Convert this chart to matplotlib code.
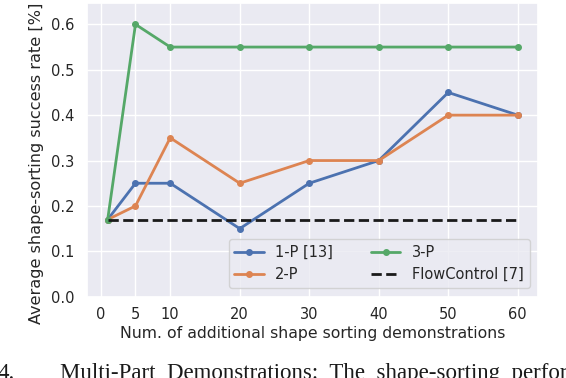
import matplotlib
matplotlib.use('Agg')
import matplotlib.pyplot as plt
import seaborn as sns

sns.set_theme(style='darkgrid')

# number of additional demonstrations
demos = [1, 5, 10, 20, 30, 40, 50, 60]
xticks = [0, 5, 10, 20, 30, 40, 50, 60]

one_p = [0.17, 0.25, 0.25, 0.15, 0.25, 0.30, 0.45, 0.40]
two_p = [0.17, 0.20, 0.35, 0.25, 0.30, 0.30, 0.40, 0.40]
three_p = [0.17, 0.60, 0.55, 0.55, 0.55, 0.55, 0.55, 0.55]
flowcontrol = [0.17, 0.17, 0.17, 0.17, 0.17, 0.17, 0.17, 0.17]

fig = plt.figure(figsize=(5.66, 3.78), dpi=100)
ax = fig.add_axes([0.154, 0.215, 0.797, 0.777])

ax.plot(demos, one_p, marker='o', ms=4, lw=2, label='1-P [13]')
ax.plot(demos, two_p, marker='o', ms=4, lw=2, label='2-P')
ax.plot(demos, three_p, marker='o', ms=4, lw=2, label='3-P')
ax.plot(demos, flowcontrol, ls='--', color='k', lw=2, label='FlowControl [7]')

ax.set_xticks(xticks)
ax.set_ylim(0, 0.647)
ax.set_yticks([0.0, 0.1, 0.2, 0.3, 0.4, 0.5, 0.6])
ax.tick_params(axis='x', labelsize=10.5, pad=1.5)
ax.tick_params(axis='y', labelsize=10.5, pad=3)
ax.set_xlabel('Num. of additional shape sorting demonstrations', fontsize=11.3, labelpad=3)
ax.set_ylabel('Average shape-sorting success rate [%]', fontsize=11.6)
ax.yaxis.set_label_coords(-0.095, 0.455)

# column-wise fill -> 1-P, 2-P | 3-P, FlowControl
ax.legend(loc='lower right', ncol=2, fontsize=10.5, borderaxespad=0.6,
          columnspacing=2.6)

# caption fragment below the plot (cut at the edges like the source crop)
fig.text(-0.005, -0.002, '4.', family='Liberation Serif', fontsize=16.5, color='k')
fig.text(0.106, -0.002, 'Multi-Part  Demonstrations:  The  shape-sorting  performance',
         family='Liberation Serif', fontsize=16.5, color='k')

fig.savefig('out.png', dpi=100)
